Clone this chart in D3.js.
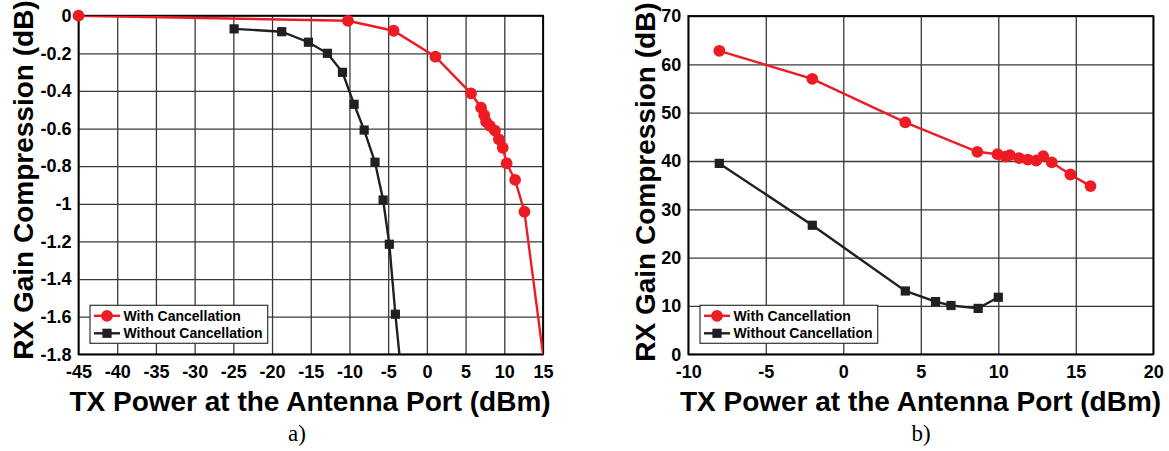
<!DOCTYPE html>
<html><head><meta charset="utf-8">
<script src="https://cdn.jsdelivr.net/npm/d3@7"></script>
<style>
html,body{margin:0;padding:0;background:#fff;}
svg{display:block;}
text{font-family:"Liberation Sans",Arial,sans-serif;font-weight:bold;fill:#000;}
</style></head><body>
<svg id="chart" width="1169" height="451"></svg>
<script>
// ---------- data ----------
const seriesNames = ["With Cancellation", "Without Cancellation"];

// panel a)
const aWithX    = [-45, -10.2, -4.3, 1.1, 5.7, 7.0, 7.4, 7.65, 8.15, 8.8, 9.3, 9.8, 10.3, 11.4, 12.6, 15.3];
const aWithY    = [0, -0.027, -0.08, -0.218, -0.413, -0.489, -0.528, -0.564, -0.586, -0.611, -0.657, -0.702, -0.785, -0.873, -1.042, -1.895];
const aWithoutX = [-24.9, -18.75, -15.3, -12.85, -10.9, -9.4, -8.1, -6.7, -5.65, -4.85, -4.07, -3.4];
const aWithoutY = [-0.07, -0.085, -0.141, -0.2, -0.301, -0.471, -0.608, -0.779, -0.98, -1.215, -1.587, -1.86];
const aXTicks = [-45, -40, -35, -30, -25, -20, -15, -10, -5, 0, 5, 10, 15];
const aXTickLabels = ["-45","-40","-35","-30","-25","-20","-15","-10","-5","0","5","10","15"];
const aYTicks = [0, -0.2, -0.4, -0.6, -0.8, -1, -1.2, -1.4, -1.6, -1.8];
const aYTickLabels = ["0","-0.2","-0.4","-0.6","-0.8","-1","-1.2","-1.4","-1.6","-1.8"];

// panel b)
const bWithX    = [-8, -2, 4, 8.65, 9.95, 10.45, 10.75, 11.35, 11.9, 12.45, 12.9, 13.45, 14.65, 15.95];
const bWithY    = [62.8, 57.0, 48.0, 41.9, 41.4, 40.9, 41.2, 40.6, 40.3, 40.1, 41.0, 39.7, 37.2, 34.8];
const bWithoutX = [-8, -2, 4, 5.95, 6.95, 8.7, 10];
const bWithoutY = [39.5, 26.7, 13.1, 10.9, 10.1, 9.5, 11.8];
const bXTicks = [-10, -5, 0, 5, 10, 15, 20];
const bXTickLabels = ["-10","-5","0","5","10","15","20"];
const bYTicks = [0, 10, 20, 30, 40, 50, 60, 70];
const bYTickLabels = ["0","10","20","30","40","50","60","70"];

const xTitle = "TX Power at the Antenna Port (dBm)";
const yTitle = "RX Gain Compression (dB)";
const panelLabels = ["a)", "b)"];

// ---------- styles ----------
const RED = "#ed1c24", BLACK = "#231f20";
const svg = d3.select("#chart");

function panel(cfg) {
  const {left, right, top, bottom, xDomain, yDomain, xTicks, xLabels, yTicks, yLabels,
         withX, withY, withoutX, withoutY, titleYX, titleCX, captionX, captionText, legend, id} = cfg;
  const x = d3.scaleLinear().domain(xDomain).range([left, right]);
  const y = d3.scaleLinear().domain(yDomain).range([bottom, top]);
  const g = svg.append("g");

  // grid
  g.append("g").attr("transform", `translate(0,${bottom})`)
    .call(d3.axisBottom(x).tickValues(xTicks).tickSize(-(bottom - top)).tickFormat(""))
    .call(s => s.select(".domain").remove())
    .call(s => s.selectAll("line").attr("stroke", "#3a3a3a").attr("stroke-width", 1.3));
  g.append("g").attr("transform", `translate(${left},0)`)
    .call(d3.axisLeft(y).tickValues(yTicks).tickSize(-(right - left)).tickFormat(""))
    .call(s => s.select(".domain").remove())
    .call(s => s.selectAll("line").attr("stroke", "#3a3a3a").attr("stroke-width", 1.3));

  // tick labels
  g.append("g").attr("transform", `translate(0,${bottom})`)
    .call(d3.axisBottom(x).tickValues(xTicks).tickSize(0).tickPadding(11)
      .tickFormat((d, i) => xLabels[i]))
    .call(s => s.select(".domain").remove())
    .call(s => s.selectAll("text").attr("font-size", 18).attr("font-family", "Liberation Sans, Arial, sans-serif").attr("font-weight", "bold").attr("fill", "#000"));
  g.append("g").attr("transform", `translate(${left},0)`)
    .call(d3.axisLeft(y).tickValues(yTicks).tickSize(0).tickPadding(7)
      .tickFormat((d, i) => yLabels[i]))
    .call(s => s.select(".domain").remove())
    .call(s => s.selectAll("text").attr("font-size", 18).attr("font-family", "Liberation Sans, Arial, sans-serif").attr("font-weight", "bold").attr("fill", "#000"));

  // clip (lines only)
  svg.append("defs").append("clipPath").attr("id", "clip" + id)
    .append("rect").attr("x", left).attr("y", top).attr("width", right - left).attr("height", bottom - top);
  const pg = g.append("g").attr("clip-path", `url(#clip${id})`);
  const mg = g.append("g");

  const line = d3.line().x(d => x(d[0])).y(d => y(d[1]));
  const withPts = withX.map((v, i) => [v, withY[i]]);
  const withoutPts = withoutX.map((v, i) => [v, withoutY[i]]);
  const [x0, x1] = d3.extent(xDomain), [y0, y1] = d3.extent(yDomain);
  const inside = d => d[0] >= x0 && d[0] <= x1 && d[1] >= y0 && d[1] <= y1;

  // frame
  g.insert("rect", () => pg.node()).attr("x", left).attr("y", top).attr("width", right - left).attr("height", bottom - top)
    .attr("fill", "none").attr("stroke", "#000").attr("stroke-width", 1.8);

  pg.append("path").datum(withoutPts).attr("d", line).attr("fill", "none")
    .attr("stroke", BLACK).attr("stroke-width", 2.4);
  pg.append("path").datum(withPts).attr("d", line).attr("fill", "none")
    .attr("stroke", RED).attr("stroke-width", 2.4);
  mg.selectAll(".sq").data(withoutPts.filter(inside)).enter().append("rect")
    .attr("x", d => x(d[0]) - 4.6).attr("y", d => y(d[1]) - 4.6)
    .attr("width", 9.2).attr("height", 9.2).attr("fill", BLACK);
  mg.selectAll(".ci").data(withPts.filter(inside)).enter().append("circle")
    .attr("cx", d => x(d[0])).attr("cy", d => y(d[1])).attr("r", 5.9).attr("fill", RED);

  // titles
  g.append("text").attr("x", titleCX).attr("y", 411).attr("text-anchor", "middle")
    .attr("font-size", 28).text(xTitle);
  g.append("text").attr("transform", `translate(${titleYX},${cfg.titleYC}) rotate(-90)`)
    .attr("text-anchor", "middle").attr("font-size", 28).text(yTitle);
  g.append("text").attr("x", captionX).attr("y", 441).attr("text-anchor", "middle")
    .attr("font-size", 23)
    .style("font-family", "'Liberation Serif', 'Times New Roman', serif").style("font-weight", "normal")
    .text(captionText);

  // legend
  const lg = g.append("g");
  lg.append("rect").attr("x", legend.x).attr("y", legend.y).attr("width", legend.w).attr("height", legend.h)
    .attr("fill", "#fff").attr("stroke", "#333").attr("stroke-width", 1.2);
  const rows = [{c: RED, shape: "circle", yy: legend.y + 10.5}, {c: BLACK, shape: "square", yy: legend.y + 28}];
  rows.forEach((r, i) => {
    lg.append("line").attr("x1", legend.x + 4).attr("x2", legend.x + 30)
      .attr("y1", r.yy).attr("y2", r.yy).attr("stroke", r.c).attr("stroke-width", 2.4);
    const cx = legend.x + 17;
    if (r.shape === "circle") lg.append("circle").attr("cx", cx).attr("cy", r.yy).attr("r", 5.9).attr("fill", r.c);
    else lg.append("rect").attr("x", cx - 4.6).attr("y", r.yy - 4.6).attr("width", 9.2).attr("height", 9.2).attr("fill", r.c);
    lg.append("text").attr("x", legend.x + 33.5).attr("y", r.yy + 5).attr("font-size", 14).text(seriesNames[i]);
  });
}

panel({
  id: "a", left: 78.5, right: 543, top: 15.7, bottom: 354.3,
  xDomain: [-45, 15], yDomain: [-1.8, 0],
  xTicks: aXTicks, xLabels: aXTickLabels, yTicks: aYTicks, yLabels: aYTickLabels,
  withX: aWithX, withY: aWithY, withoutX: aWithoutX, withoutY: aWithoutY,
  titleCX: 310, titleYX: 33, titleYC: 180, captionX: 297, captionText: panelLabels[0],
  legend: {x: 90, y: 305.3, w: 177.7, h: 38}
});
panel({
  id: "b", left: 688.3, right: 1153.3, top: 16, bottom: 354.3,
  xDomain: [-10, 20], yDomain: [0, 70],
  xTicks: bXTicks, xLabels: bXTickLabels, yTicks: bYTicks, yLabels: bYTickLabels,
  withX: bWithX, withY: bWithY, withoutX: bWithoutX, withoutY: bWithoutY,
  titleCX: 920.5, titleYX: 655, titleYC: 182, captionX: 921, captionText: panelLabels[1],
  legend: {x: 700, y: 305.3, w: 177.7, h: 38}
});
</script>
</body></html>
